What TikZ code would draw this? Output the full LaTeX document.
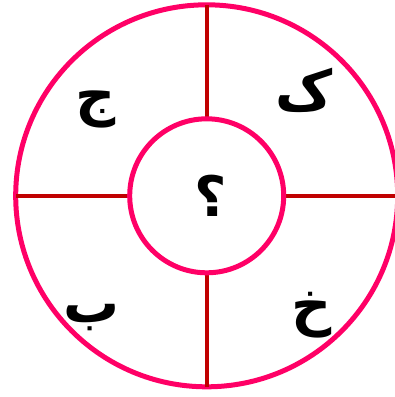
\documentclass[tikz,border=0pt]{standalone}
\usepackage{fontspec}
\usepackage{xcolor}
\usepackage{tikz}
\newfontfamily\arabicfont[Script=Arabic]{DejaVu Sans}
\TeXXeTstate=1
\definecolor{ringpink}{HTML}{FF0066}
\definecolor{spokered}{HTML}{C00000}
\tikzset{
  ring/.style={circle, draw=ringpink, line width=5bp, inner sep=0pt, outer sep=0pt},
  spoke/.style={draw=spokered, line width=4bp},
  letter/.style={font=\arabicfont\bfseries\fontsize{56}{60}\selectfont, inner sep=0pt}
}
\begin{document}
\begin{tikzpicture}[x=1bp, y=-1bp]
\useasboundingbox (0,0) rectangle (395,397);
\coordinate (c) at (206.7,195.8);
\node[ring, minimum size=382bp] (outer) at (c) {};
\draw[spoke] (c) -- (outer.north);
\draw[spoke] (c) -- (outer.south);
\draw[spoke] (c) -- (outer.west);
\draw[spoke] (c) -- (outer.east);
\node[ring, fill=white, minimum size=154bp] (hub) at (c) {};
\node[letter] (q) at (211,196) {\beginR ؟\endR};
\node[letter] (jim) at (96,109) {\beginR ج\endR};
\node[letter] (kaf) at (304,90) {\beginR ک\endR};
\node[letter] (be) at (92,318) {\beginR ب\endR};
\node[letter] (khe) at (312,315) {\beginR خ\endR};
\end{tikzpicture}
\end{document}
